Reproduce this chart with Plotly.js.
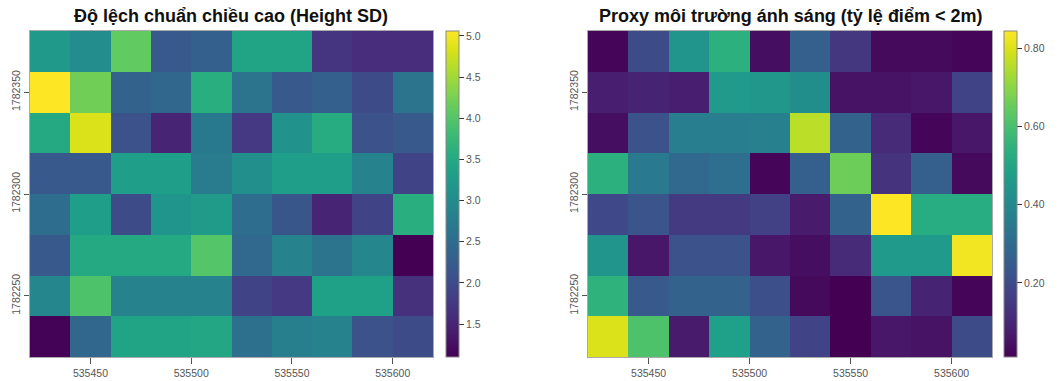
<!DOCTYPE html>
<html>
<head>
<meta charset="utf-8">
<script src="https://cdn.plot.ly/plotly-3.0.1.min.js"></script>
<style>html,body{margin:0;padding:0;background:#fff;}#chart{width:1059px;height:381px;}</style>
</head>
<body>
<div id="chart"></div>
<script>
// Cell centres (20 m grid)
const xCenters = [535430, 535450, 535470, 535490, 535510, 535530, 535550, 535570, 535590, 535610];
const yCenters = [1782370, 1782350, 1782330, 1782310, 1782290, 1782270, 1782250, 1782230];
const xTickVals = [535450, 535500, 535550, 535600];
const xTickText = ["535450", "535500", "535550", "535600"];
const yTickVals = [1782250, 1782300, 1782350];
const yTickText = ["1782250", "1782300", "1782350"];

const title1 = "Độ lệch chuẩn chiều cao (Height SD)";
const title2 = "Proxy môi trường ánh sáng (tỷ lệ điểm < 2m)";

// Height SD, rows top -> bottom
const heightSD = [
  [3.2, 3.0, 4.1, 2.2, 2.3, 3.4, 3.4, 1.7, 1.6, 1.6],
  [5.06, 4.2, 2.35, 2.4, 3.6, 2.6, 2.2, 2.3, 2.0, 2.6],
  [3.5, 4.85, 2.1, 1.5, 2.7, 1.75, 3.1, 3.55, 2.1, 2.2],
  [2.2, 2.2, 3.3, 3.3, 2.75, 3.05, 3.3, 3.3, 2.85, 1.9],
  [2.5, 3.3, 2.0, 3.15, 3.25, 2.5, 2.15, 1.5, 1.9, 3.6],
  [2.2, 3.5, 3.5, 3.5, 4.0, 2.45, 2.85, 2.6, 2.9, 1.1],
  [2.9, 3.95, 2.85, 2.85, 2.85, 1.9, 1.75, 3.35, 3.35, 1.65],
  [1.12, 2.4, 3.4, 3.4, 3.45, 2.55, 2.8, 2.85, 2.1, 2.0]
];

// Light proxy (share of points < 2 m), rows top -> bottom
const lightProxy = [
  [0.02, 0.20, 0.44, 0.54, 0.04, 0.26, 0.14, 0.03, 0.03, 0.02],
  [0.08, 0.09, 0.08, 0.46, 0.45, 0.42, 0.05, 0.05, 0.06, 0.18],
  [0.04, 0.22, 0.36, 0.36, 0.37, 0.76, 0.27, 0.11, 0.02, 0.06],
  [0.54, 0.35, 0.29, 0.31, 0.02, 0.26, 0.66, 0.13, 0.26, 0.03],
  [0.19, 0.23, 0.15, 0.15, 0.17, 0.07, 0.27, 0.845, 0.53, 0.53],
  [0.44, 0.06, 0.22, 0.22, 0.06, 0.04, 0.11, 0.46, 0.46, 0.83],
  [0.55, 0.24, 0.27, 0.27, 0.21, 0.03, 0.01, 0.23, 0.09, 0.02],
  [0.80, 0.61, 0.07, 0.48, 0.27, 0.18, 0.01, 0.06, 0.05, 0.20]
];

const cb1Ticks = [1.5, 2.0, 2.5, 3.0, 3.5, 4.0, 4.5, 5.0];
const cb2Ticks = [0.2, 0.4, 0.6, 0.8];

const W = 1059, H = 381;
const fx = p => p / W;
const fy = p => (H - p) / H;
const plotTop = 31, plotBot = 357;

const tickFont = {family: "Liberation Sans, Arial, sans-serif", size: 10.5, color: "#555"};

function cb(xpx, vals, fmt) {
  return {
    x: fx(xpx), xanchor: "left", xpad: 0,
    y: fy((plotTop + plotBot) / 2), yanchor: "middle", ypad: 0,
    len: (plotBot - plotTop) / H, lenmode: "fraction",
    thickness: 13, thicknessmode: "pixels",
    outlinewidth: 1, outlinecolor: "#888",
    tickmode: "array", tickvals: vals, ticktext: vals.map(v => v.toFixed(fmt)),
    ticks: "outside", ticklen: 5, tickcolor: "#333", tickwidth: 1,
    tickfont: tickFont
  };
}

const traces = [
  {
    type: "heatmap", x: xCenters, y: yCenters, z: heightSD,
    colorscale: "Viridis", zmin: 1.10, zmax: 5.06,
    xaxis: "x", yaxis: "y", colorbar: cb(446, cb1Ticks, 1), hoverinfo: "x+y+z"
  },
  {
    type: "heatmap", x: xCenters, y: yCenters, z: lightProxy,
    colorscale: "Viridis", zmin: 0.01, zmax: 0.845,
    xaxis: "x2", yaxis: "y2", colorbar: cb(1004, cb2Ticks, 2), hoverinfo: "x+y+z"
  }
];

function xa(l, r, anchor) {
  return {
    domain: [fx(l), fx(r)], anchor: anchor, range: [535420, 535620],
    tickmode: "array", tickvals: xTickVals, ticktext: xTickText,
    ticks: "outside", ticklen: 6, tickcolor: "#555", tickfont: tickFont,
    showgrid: false, zeroline: false, showline: true, linecolor: "#aaa", mirror: true
  };
}
function ya(anchor) {
  return {
    domain: [fy(plotBot), fy(plotTop)], anchor: anchor, range: [1782220, 1782380],
    tickmode: "array", tickvals: yTickVals, ticktext: yTickText, tickangle: -90,
    ticks: "outside", ticklen: 5, tickcolor: "#555", tickfont: tickFont,
    showgrid: false, zeroline: false, showline: true, linecolor: "#aaa", mirror: true
  };
}

const titleFont = {family: "Liberation Sans, Arial, sans-serif", size: 18, color: "#111", weight: "bold"};

const layout = {
  width: W, height: H,
  margin: {l: 0, r: 0, t: 0, b: 0},
  paper_bgcolor: "#fff", plot_bgcolor: "#fff",
  showlegend: false,
  xaxis: xa(30, 433, "y"),
  yaxis: ya("x"),
  xaxis2: xa(588, 992, "y2"),
  yaxis2: ya("x2"),
  annotations: [
    {text: "<b>" + title1 + "</b>", xref: "paper", yref: "paper", x: fx(231), y: fy(16), xanchor: "center", yanchor: "middle", showarrow: false, font: titleFont},
    {text: "<b>" + title2.replace("<", "&lt;") + "</b>", xref: "paper", yref: "paper", x: fx(790), y: fy(16), xanchor: "center", yanchor: "middle", showarrow: false, font: titleFont}
  ]
};

Plotly.newPlot("chart", traces, layout, {displayModeBar: false, staticPlot: true});
</script>
</body>
</html>
